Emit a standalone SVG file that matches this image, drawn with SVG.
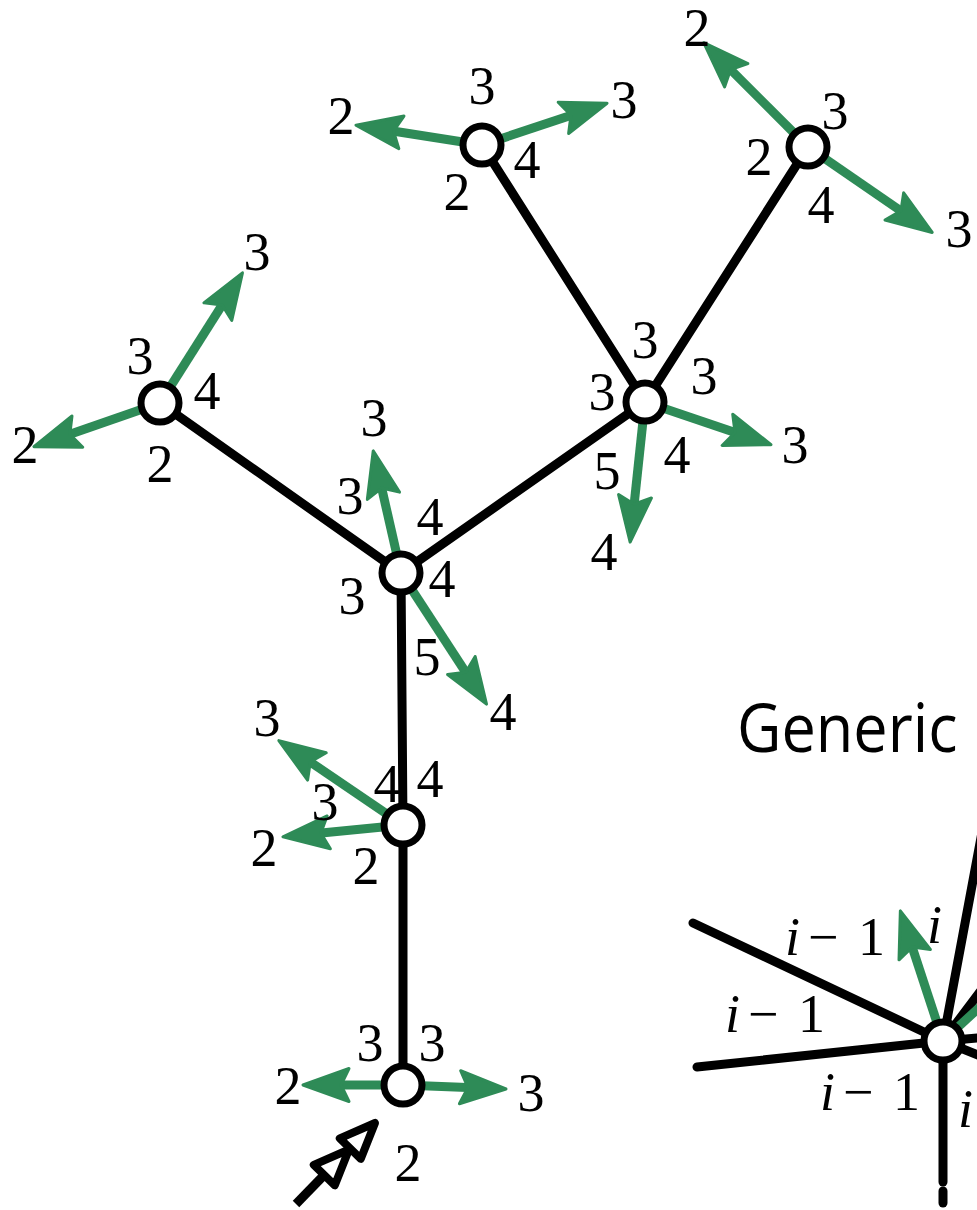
<svg xmlns="http://www.w3.org/2000/svg" width="977" height="1210" viewBox="0 0 977 1210">
<style>
.e{stroke:#000;stroke-width:9;stroke-linecap:round;fill:none}
.g{stroke:#2e8b57;stroke-width:9;stroke-linecap:butt;fill:none;marker-end:url(#ah)}
.gn{stroke:#2e8b57;stroke-width:9;fill:none}
.n{fill:#fff;stroke:#000;stroke-width:7}
.t{font-family:"Liberation Serif","Times New Roman",serif;font-size:54px;text-anchor:middle;fill:#000}
.s{font-family:"Liberation Serif","Times New Roman",serif;font-size:54px;fill:#000}
.it{font-style:italic}
.hd{fill:#fff;stroke:#000;stroke-width:8;stroke-linejoin:round}
</style>
<defs>
<marker id="ah" markerUnits="userSpaceOnUse" orient="auto" refX="0" refY="0" markerWidth="60" markerHeight="40" overflow="visible">
<path d="M13,0 L-33,-16.5 L-25,0 L-33,16.5 Z" fill="#2e8b57" stroke="#2e8b57" stroke-width="3" stroke-linejoin="round"/>
</marker>
</defs>
<rect width="977" height="1210" fill="#fff"/>
<g id="connectors">
<line class="e" x1="403" y1="1085" x2="403" y2="825"/>
<line class="e" x1="403" y1="825" x2="401" y2="573"/>
<line class="e" x1="401" y1="573" x2="160" y2="403"/>
<line class="e" x1="401" y1="573" x2="645" y2="402"/>
<line class="e" x1="645" y1="402" x2="482" y2="145"/>
<line class="e" x1="645" y1="402" x2="808" y2="147"/>
<line class="e" x1="693" y1="923" x2="943" y2="1041"/>
<line class="e" x1="697" y1="1067" x2="943" y2="1041"/>
<line class="e" x1="943" y1="1041" x2="943" y2="1182"/>
<line class="e" x1="943" y1="1191" x2="943" y2="1203"/>
<line class="e" x1="943" y1="1215" x2="943" y2="1230"/>
<line class="e" x1="943" y1="1041" x2="988" y2="800"/>
<line class="e" x1="943" y1="1041" x2="1000" y2="965"/>
<line class="e" x1="943" y1="1041" x2="1000" y2="1036"/>
<line class="e" x1="943" y1="1041" x2="1000" y2="1064"/>
<line class="gn" x1="943" y1="1041" x2="1010" y2="979"/>
<path class="g" d="M403,1085 L316,1085"/>
<path class="g" d="M403,1085 L493,1088.5"/>
<path class="g" d="M403,825 L289.6,747.9"/>
<path class="g" d="M403,825 L295.9,835.6"/>
<path class="g" d="M401,573 L376.1,463.6"/>
<path class="g" d="M401,573 L479.4,693.2"/>
<path class="g" d="M160,403 L235.5,283.8"/>
<path class="g" d="M160,403 L46.2,442.4"/>
<path class="g" d="M482,145 L368.8,127.2"/>
<path class="g" d="M482,145 L594.7,107.4"/>
<path class="g" d="M808,147 L712.9,51.9"/>
<path class="g" d="M808,147 L921.5,225.1"/>
<path class="g" d="M645,402 L758.7,440.5"/>
<path class="g" d="M645,402 L631.5,529.1"/>
<path class="g" d="M943,1041 L904.4,923.3"/>
<g id="start-arrow">
<line x1="296" y1="1204" x2="330" y2="1169" stroke="#000" stroke-width="9"/>
<path class="hd" d="M349,1149.5 L334.8,1185.3 L313.8,1164.8 Z"/>
<path class="hd" d="M375,1123 L360.8,1158.8 L339.8,1138.3 Z"/>
</g>
</g>
<g id="node-root">
<circle class="n" cx="403" cy="1085" r="19"/>
<text class="t" x="288" y="1104">2</text>
<text class="t" x="531" y="1111">3</text>
<text class="t" x="408" y="1181">2</text>
<text class="t" x="370" y="1061">3</text>
<text class="t" x="432" y="1061">3</text>
</g>
<g id="node-b">
<circle class="n" cx="403" cy="825" r="19"/>
<text class="t" x="267" y="736">3</text>
<text class="t" x="325" y="820">3</text>
<text class="t" x="387" y="802">4</text>
<text class="t" x="430" y="797">4</text>
<text class="t" x="264" y="866">2</text>
<text class="t" x="366" y="884">2</text>
</g>
<g id="node-c">
<circle class="n" cx="401" cy="573" r="19"/>
<text class="t" x="374" y="436">3</text>
<text class="t" x="350" y="514">3</text>
<text class="t" x="430" y="535">4</text>
<text class="t" x="442" y="597">4</text>
<text class="t" x="352" y="614">3</text>
<text class="t" x="427" y="675">5</text>
<text class="t" x="503" y="730">4</text>
</g>
<g id="node-left">
<circle class="n" cx="160" cy="403" r="19"/>
<text class="t" x="257" y="270">3</text>
<text class="t" x="140" y="374">3</text>
<text class="t" x="207" y="409">4</text>
<text class="t" x="25" y="463">2</text>
<text class="t" x="160" y="482">2</text>
</g>
<g id="node-top">
<circle class="n" cx="482" cy="145" r="19"/>
<text class="t" x="341" y="134">2</text>
<text class="t" x="482" y="104">3</text>
<text class="t" x="624" y="118">3</text>
<text class="t" x="527" y="178">4</text>
<text class="t" x="457" y="210">2</text>
</g>
<g id="node-topright">
<circle class="n" cx="808" cy="147" r="19"/>
<text class="t" x="697" y="46">2</text>
<text class="t" x="835" y="129">3</text>
<text class="t" x="759" y="175">2</text>
<text class="t" x="821" y="223">4</text>
<text class="t" x="959" y="247">3</text>
</g>
<g id="node-right">
<circle class="n" cx="645" cy="402" r="19"/>
<text class="t" x="645" y="358">3</text>
<text class="t" x="602" y="410">3</text>
<text class="t" x="704" y="394">3</text>
<text class="t" x="795" y="463">3</text>
<text class="t" x="677" y="473">4</text>
<text class="t" x="607" y="489">5</text>
<text class="t" x="604" y="570">4</text>
</g>
<g id="node-generic">
<circle class="n" cx="943" cy="1041" r="19"/>
<text class="s" x="785" y="955"><tspan class="it">i</tspan><tspan x="808">−</tspan><tspan x="858">1</tspan></text>
<text class="s" x="725" y="1032"><tspan class="it">i</tspan><tspan x="748">−</tspan><tspan x="798">1</tspan></text>
<text class="s" x="820" y="1110"><tspan class="it">i</tspan><tspan x="843">−</tspan><tspan x="893">1</tspan></text>
<text class="s it" x="927" y="943">i</text>
<text class="s it" x="958" y="1127">i</text>
</g>
<g id="title">
<text transform="translate(737,752) scale(0.9,1)" x="0" y="0" font-family="'Open Sans','Liberation Sans',sans-serif" font-size="68" fill="#000">Generic</text>
</g>
</svg>
